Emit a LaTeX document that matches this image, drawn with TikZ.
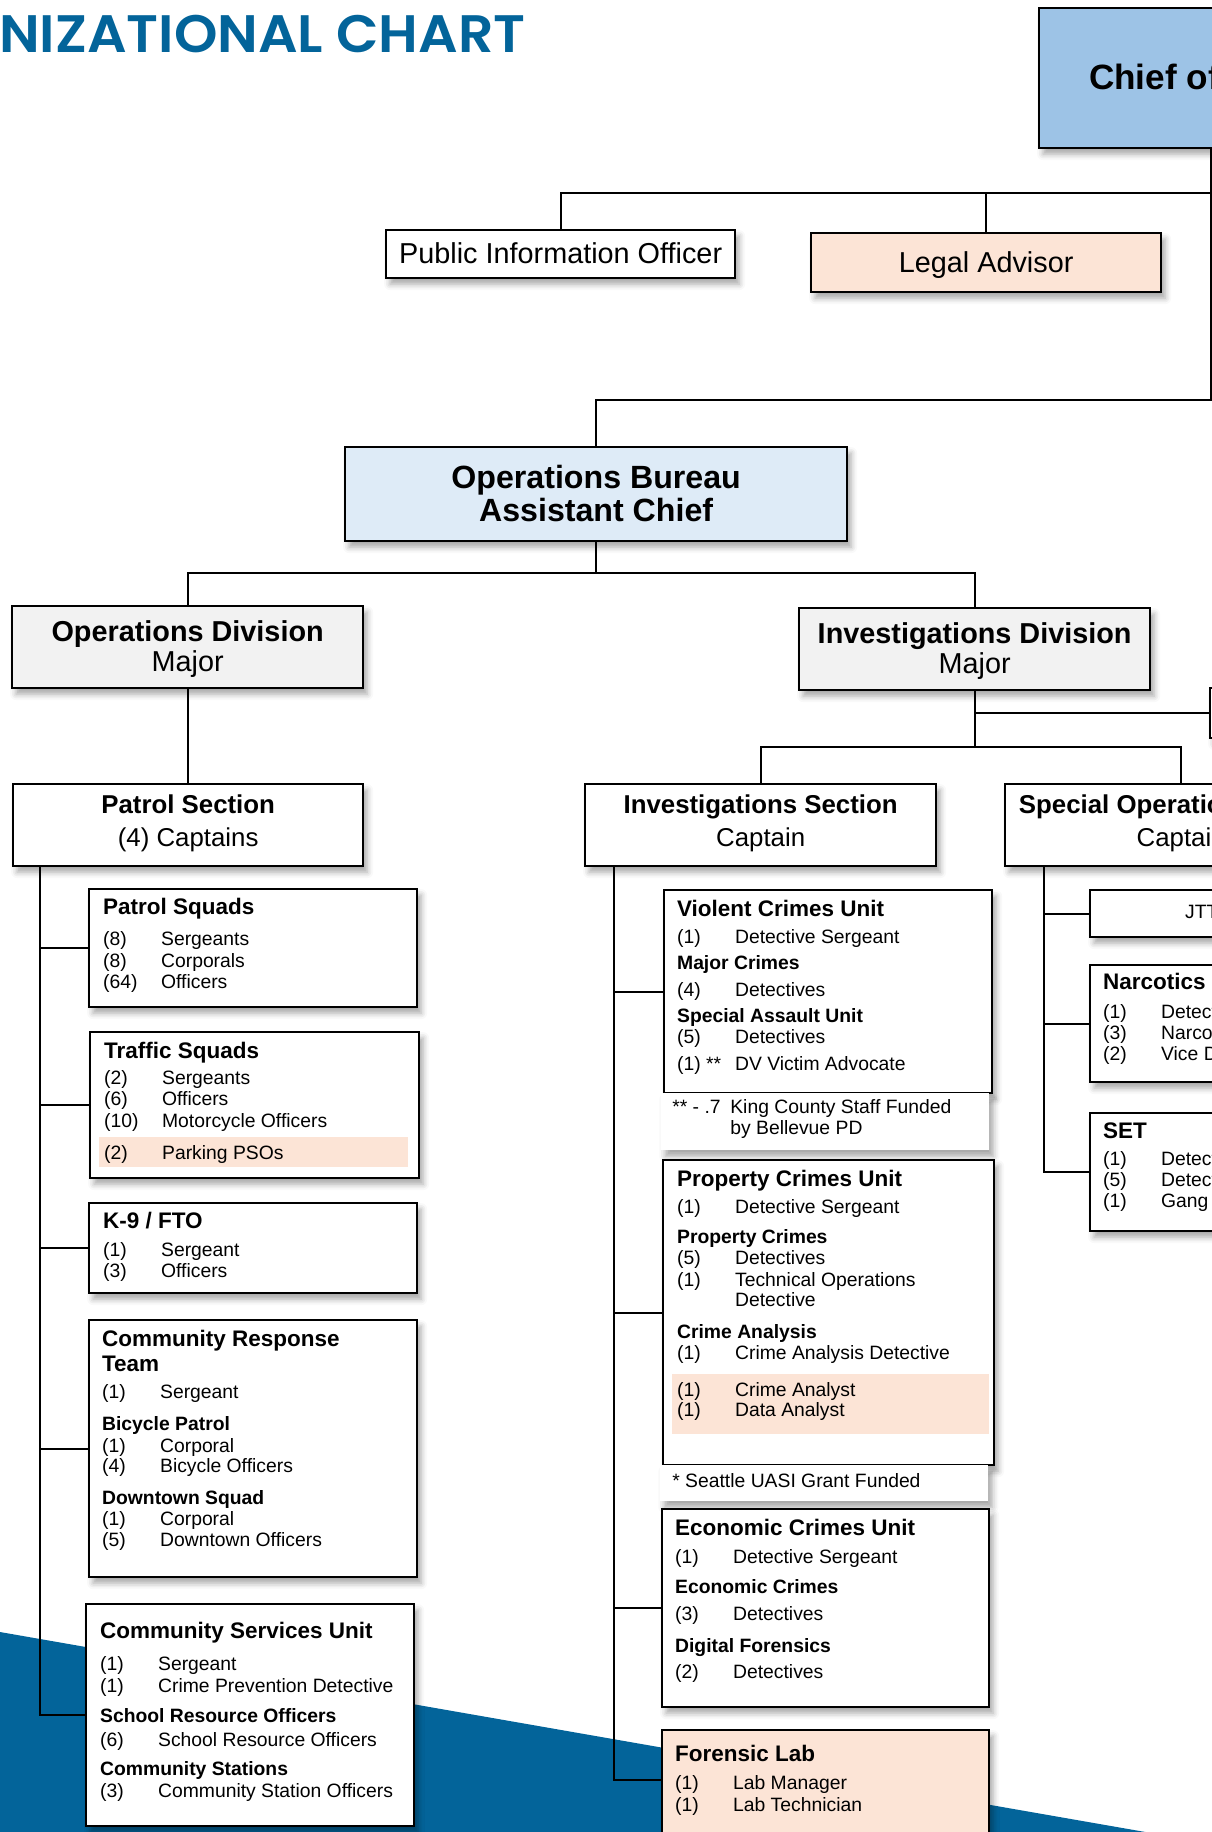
\documentclass[tikz,border=0pt]{standalone}
\usepackage{fontspec}
\setmainfont{Liberation Sans}
\newfontfamily\titlefont{Poppins SemiBold}[FakeStretch=1.05]
\usetikzlibrary{shadows.blur}

\definecolor{chiefblue}{HTML}{9DC3E6}
\definecolor{bureaublue}{HTML}{DEEBF7}
\definecolor{divgray}{HTML}{F2F2F2}
\definecolor{peach}{HTML}{FCE4D6}
\definecolor{wave}{HTML}{03649A}

\newlength\px
\setlength\px{0.02cm}
\newcommand\rw[2]{\makebox[58\px][l]{#1}#2}
\newcommand\gp[1]{\\[#1\px]}
\newcommand\hd[1]{{\fontsize{12.8}{0}\selectfont\bfseries #1}}
\newcommand\sub[1]{{\bfseries #1}}
\newcommand\hl[4]{\smash{\makebox[0pt][l]{\hspace*{#1\px}\textcolor{peach}{\rule[-#3\px]{#2\px}{#4\px}}}}}
\newcommand\ubox[5]{\parbox[c][#2\px][t]{#1\px}{\raggedright\leftskip=#3\px\fontsize{11}{0}\selectfont\lineskiplimit=-\maxdimen\rule{0pt}{#4\px}#5}}
\newcommand\cbox[4]{\parbox[c][#2\px][t]{#1\px}{\centering\fontsize{11}{0}\selectfont\lineskiplimit=-\maxdimen\rule{0pt}{#3\px}#4}}

\begin{document}
\begin{tikzpicture}[x=1\px, y=-1\px,
	box/.style={draw, line width=1.3pt, inner sep=0pt, anchor=north west,
		blur shadow={shadow xshift=4\px, shadow yshift=-6\px, shadow blur radius=6\px, shadow opacity=35}},
	unit/.style={box, fill=white},
	note/.style={fill=white, inner sep=0pt, anchor=north west,
		blur shadow={shadow xshift=4\px, shadow yshift=-6\px, shadow blur radius=6\px, shadow opacity=35}},
	link/.style={line width=1pt}]
	\path[use as bounding box] (0,0) rectangle (1212,1832);
	\clip (0,0) rectangle (1212,1832);
	\fill[wave] (0,1632) -- (1300,1859) -- (1300,1900) -- (0,1900) -- cycle;

	\node[anchor=base east, inner sep=0pt, text=wave, font=\titlefont\fontsize{30}{36}\selectfont] (title) at (526,52) {ORGANIZATIONAL CHART};

	\node[box, fill=chiefblue] (chief) at (1038,7) {\cbox{344}{140}{81}{{\fontsize{20}{0}\selectfont\bfseries Chief of Police}}};
	\node[box, fill=white] (pio) at (385,229) {\cbox{349}{48}{33}{{\fontsize{16.4}{0}\selectfont Public Information Officer}}};
	\node[box, fill=peach] (legal) at (810,232) {\cbox{350}{59}{39}{{\fontsize{16.4}{0}\selectfont Legal Advisor}}};
	\node[box, fill=bureaublue] (opsb) at (344,446) {\cbox{502}{94}{41}{{\fontsize{18.3}{0}\selectfont\bfseries Operations Bureau}\gp{33}{\fontsize{18.3}{0}\selectfont\bfseries Assistant Chief}}};

	\node[box, fill=divgray] (opsdiv) at (11,605) {\cbox{351}{82}{35}{{\fontsize{16.4}{0}\selectfont\bfseries Operations Division}\gp{30}{\fontsize{16.4}{0}\selectfont Major}}};
	\node[box, fill=divgray] (invdiv) at (798,607) {\cbox{351}{82}{35}{{\fontsize{16.4}{0}\selectfont\bfseries Investigations Division}\gp{30}{\fontsize{16.4}{0}\selectfont Major}}};
	\node[unit, minimum width=200\px, minimum height=50\px] (aux) at (1209,687) {};

	\node[box, fill=white] (patrol) at (12,783) {\cbox{350}{82}{29}{{\fontsize{14.7}{0}\selectfont\bfseries Patrol Section}\gp{33}{\fontsize{14.7}{0}\selectfont (4) Captains}}};
	\node[box, fill=white] (invsec) at (584,783) {\cbox{351}{82}{29}{{\fontsize{14.7}{0}\selectfont\bfseries Investigations Section}\gp{33}{\fontsize{14.7}{0}\selectfont Captain}}};
	\node[box, fill=white] (specops) at (1004,783) {\cbox{352}{82}{29}{{\fontsize{14.7}{0}\selectfont\bfseries\hspace*{10\px}Special Operations Section}\gp{33}{\fontsize{14.7}{0}\selectfont Captain}}};

	\node[unit] (psq) at (88,888) {\ubox{328}{118}{14}{25}{\hd{Patrol Squads}\gp{31}\rw{(8)}{Sergeants}\gp{22}\rw{(8)}{Corporals}\gp{21}\rw{(64)}{Officers}}};
	\node[unit] (traffic) at (89,1031) {\ubox{329}{146}{14}{26}{\hd{Traffic Squads}\gp{26}\rw{(2)}{Sergeants}\gp{21}\rw{(6)}{Officers}\gp{22}\rw{(10)}{Motorcycle Officers}\gp{32}\hl{-5}{309}{8}{30}\rw{(2)}{Parking PSOs}}};
	\node[unit] (k9) at (88,1202) {\ubox{328}{90}{14}{25}{\hd{K-9 / FTO}\gp{28}\rw{(1)}{Sergeant}\gp{21}\rw{(3)}{Officers}}};
	\node[unit] (crt) at (88,1319) {\ubox{328}{257}{13}{26}{\hd{Community Response}\gp{25}\hd{Team}\gp{27}\rw{(1)}{Sergeant}\gp{32}\sub{Bicycle Patrol}\gp{22}\rw{(1)}{Corporal}\gp{20}\rw{(4)}{Bicycle Officers}\gp{32}\sub{Downtown Squad}\gp{21}\rw{(1)}{Corporal}\gp{21}\rw{(5)}{Downtown Officers}}};
	\node[unit] (csu) at (85,1603) {\ubox{328}{222}{14}{34}{\hd{Community Services Unit}\gp{32}\rw{(1)}{Sergeant}\gp{22}\rw{(1)}{Crime Prevention Detective}\gp{30}\sub{School Resource Officers}\gp{24}\rw{(6)}{School Resource Officers}\gp{29}\sub{Community Stations}\gp{22}\rw{(3)}{Community Station Officers}}};

	\node[unit] (vcu) at (663,889) {\ubox{328}{203}{13}{26}{\hd{Violent Crimes Unit}\gp{27}\rw{(1)}{Detective Sergeant}\gp{26}\sub{Major Crimes}\gp{27}\rw{(4)}{Detectives}\gp{26}\sub{Special Assault Unit}\gp{21}\rw{(5)}{Detectives}\gp{27}\rw{(1) **}{DV Victim Advocate}}};
	\node[note] (kcnote) at (661,1093) {\ubox{328}{57}{11}{20}{\rw{** - .7}{King County Staff Funded}\gp{21}\rw{}{by Bellevue PD}}};
	\node[unit] (pcu) at (662,1159) {\ubox{331}{305}{14}{26}{\hd{Property Crimes Unit}\gp{27}\rw{(1)}{Detective Sergeant}\gp{30}\sub{Property Crimes}\gp{21}\rw{(5)}{Detectives}\gp{22}\rw{(1)}{Technical Operations}\gp{20}\rw{}{Detective}\gp{32}\sub{Crime Analysis}\gp{21}\rw{(1)}{Crime Analysis Detective}\gp{37}\hl{-5}{317}{38}{60}\rw{(1)}{Crime Analyst}\gp{20}\rw{(1)}{Data Analyst}}};
	\node[note] (uasinote) at (660,1465) {\ubox{328}{36}{12}{22}{* Seattle UASI Grant Funded}};
	\node[unit] (ecu) at (661,1508) {\ubox{327}{198}{13}{26}{\hd{Economic Crimes Unit}\gp{28}\rw{(1)}{Detective Sergeant}\gp{30}\sub{Economic Crimes}\gp{27}\rw{(3)}{Detectives}\gp{32}\sub{Digital Forensics}\gp{26}\rw{(2)}{Detectives}}};
	\node[box, fill=peach] (flab) at (661,1729) {\ubox{327}{200}{13}{31}{\hd{Forensic Lab}\gp{28}\rw{(1)}{Lab Manager}\gp{22}\rw{(1)}{Lab Technician}}};

	\node[unit] (jttf) at (1089,889) {\ubox{330}{47}{95}{28}{JTTF}};
	\node[unit] (narc) at (1089,964) {\ubox{330}{117}{13}{24}{\hd{Narcotics / Vice}\gp{29}\rw{(1)}{Detective Sergeant}\gp{21}\rw{(3)}{Narcotics Detectives}\gp{21}\rw{(2)}{Vice Detectives}}};
	\node[unit] (setunit) at (1089,1112) {\ubox{330}{118}{13}{25}{\hd{SET}\gp{27}\rw{(1)}{Detective Sergeant}\gp{21}\rw{(5)}{Detectives}\gp{21}\rw{(1)}{Gang Detective}}};

	\coordinate (topbus) at (0,193);
	\coordinate (divbus) at (0,573);
	\coordinate (secbus) at (0,747);
	\coordinate (pbus) at (40,0);
	\coordinate (ibus) at (614,0);
	\coordinate (sbus) at (1044,0);

	\draw[link] (chief.south) -- ++(0,251) -| (opsb.north);
	\draw[link] (pio.north) |- (chief.south |- topbus);
	\draw[link] (legal.north) -- (legal.north |- topbus);
	\draw[link] (opsb.south) -- (opsb.south |- divbus);
	\draw[link] (opsdiv.north) |- (invdiv.north |- divbus) -- (invdiv.north);
	\draw[link] (opsdiv.south) -- (opsdiv.south |- patrol.north);
	\draw[link] (invdiv.south) -- (invdiv.south |- secbus);
	\draw[link] (invdiv.south |- aux.west) -- (aux.west);
	\draw[link] (invsec.north) |- (specops.north |- secbus) -- (specops.north);

	\draw[link] (patrol.south -| pbus) |- (csu.west);
	\foreach \u in {psq,traffic,k9,crt}
		\draw[link] (\u.west -| pbus) -- (\u.west);
	\draw[link] (invsec.south -| ibus) |- ([yshift=-51\px]flab.north west);
	\foreach \u in {vcu,pcu,ecu}
		\draw[link] (\u.west -| ibus) -- (\u.west);
	\draw[link] (specops.south -| sbus) |- (setunit.west);
	\foreach \u in {jttf,narc}
		\draw[link] (\u.west -| sbus) -- (\u.west);
\end{tikzpicture}
\end{document}
